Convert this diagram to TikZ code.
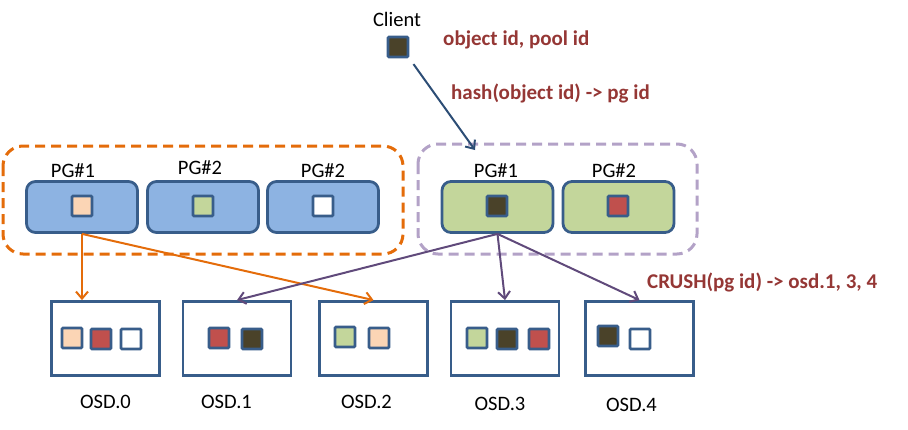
\documentclass[tikz,border=0pt]{standalone}
\usepackage{fontspec}
\setmainfont{Carlito}
\usepackage{tikz}
\usetikzlibrary{arrows.meta}
\definecolor{edge}{HTML}{385D8A}
\definecolor{pgblue}{HTML}{8DB3E2}
\definecolor{pggreen}{HTML}{C3D69B}
\definecolor{peach}{HTML}{FBD5B5}
\definecolor{objred}{HTML}{C0504D}
\definecolor{objdark}{HTML}{4A4229}
\definecolor{notered}{HTML}{953735}
\definecolor{grporange}{HTML}{E46C0A}
\definecolor{grppurple}{HTML}{B3A2C7}
\definecolor{mapline}{HTML}{604A7B}
\definecolor{hashline}{HTML}{2C4D75}

\begin{document}
\begin{tikzpicture}[x=1pt,y=-1pt,
  pgbox/.style={draw=edge,line width=2.8pt,rounded corners=9pt,minimum width=111pt,minimum height=51pt,inner sep=0pt},
  osdbox/.style={draw=edge,line width=2.8pt,fill=white,minimum width=108pt,minimum height=74pt,inner sep=0pt},
  obj/.style={draw=edge,line width=2.8pt,rounded corners=1pt,minimum size=20pt,inner sep=0pt},
  lbl/.style={font=\fontsize{20.5}{24}\selectfont,inner sep=0pt,anchor=base},
  note/.style={font=\fontsize{21}{25}\selectfont\bfseries,text=notered,inner sep=0pt,anchor=base west},
  grp/.style={line width=3pt,dash pattern=on 10pt off 6pt,rounded corners=20pt},
  tip/.style={line width=2pt,-{Straight Barb[length=7pt,width=12pt]}}]
\useasboundingbox (0,0) rectangle (908,429);

\draw[grp,grporange] (3,146) rectangle (403,254);
\draw[grp,grppurple] (418,144) rectangle (697,254);

\node[obj,fill=objdark] (client) at (398,47) {};
\node[lbl] (lblclient) at (397,26) {Client};
\node[note] (objnote) at (443,45) {object id, pool id};
\node[note] (hashnote) at (451,99) {hash(object id) -> pg id};
\node[note] (crushnote) at (647,288) {CRUSH(pg id) -> osd.1, 3, 4};

\node[pgbox,fill=pgblue] (pgA1) at (82,207) {};
\node[pgbox,fill=pgblue] (pgA2) at (203,207) {};
\node[pgbox,fill=pgblue] (pgA3) at (323,207) {};
\node[pgbox,fill=pggreen] (pgB1) at (497.5,207) {};
\node[pgbox,fill=pggreen] (pgB2) at (618.5,207) {};

\node[lbl] (lblA1) at (73,177) {PG\#1};
\node[lbl] (lblA2) at (200,174) {PG\#2};
\node[lbl] (lblA3) at (323,177) {PG\#2};
\node[lbl] (lblB1) at (496,177) {PG\#1};
\node[lbl] (lblB2) at (614,177) {PG\#2};

\node[obj,fill=peach] (objA1) at (82,206) {};
\node[obj,fill=pggreen] (objA2) at (203,206) {};
\node[obj,fill=white] (objA3) at (323,206) {};
\node[obj,fill=objdark] (objB1) at (497,206) {};
\node[obj,fill=objred] (objB2) at (618,206) {};

\node[osdbox] (osd0) at (105.5,338.5) {};
\node[osdbox] (osd1) at (237,338.5) {};
\node[osdbox] (osd2) at (373.5,338.5) {};
\node[osdbox] (osd3) at (505,338.5) {};
\node[osdbox] (osd4) at (639.5,338.5) {};

\node[obj,fill=peach] at (72,338) {};
\node[obj,fill=objred] at (101,339) {};
\node[obj,fill=white] at (131,339) {};
\node[obj,fill=objred] at (219,338) {};
\node[obj,fill=objdark] at (252,339) {};
\node[obj,fill=pggreen] at (345,337) {};
\node[obj,fill=peach] at (379,338) {};
\node[obj,fill=pggreen] at (477,338) {};
\node[obj,fill=objdark] at (507,339) {};
\node[obj,fill=objred] at (539,339) {};
\node[obj,fill=objdark] at (608,336) {};
\node[obj,fill=white] at (640,339) {};

\node[lbl] (lbl0) at (105.5,408) {OSD.0};
\node[lbl] (lbl1) at (226.5,408) {OSD.1};
\node[lbl] (lbl2) at (366.5,408) {OSD.2};
\node[lbl] (lbl3) at (500,410) {OSD.3};
\node[lbl] (lbl4) at (631.5,411) {OSD.4};

\coordinate (hashend) at (475,150);
\draw[tip,hashline,shorten <=7pt] (client.south east) -- (hashend);

\draw[tip,grporange] (pgA1.south) -- (pgA1.south |- osd0.north);
\draw[tip,grporange] (pgA1.south) -- (osd2.north);
\draw[tip,mapline] (pgB1.south) -- (osd1.north);
\draw[tip,mapline] (pgB1.south) -- (osd3.north);
\draw[tip,mapline] (pgB1.south) -- (osd4.north);
\end{tikzpicture}
\end{document}
